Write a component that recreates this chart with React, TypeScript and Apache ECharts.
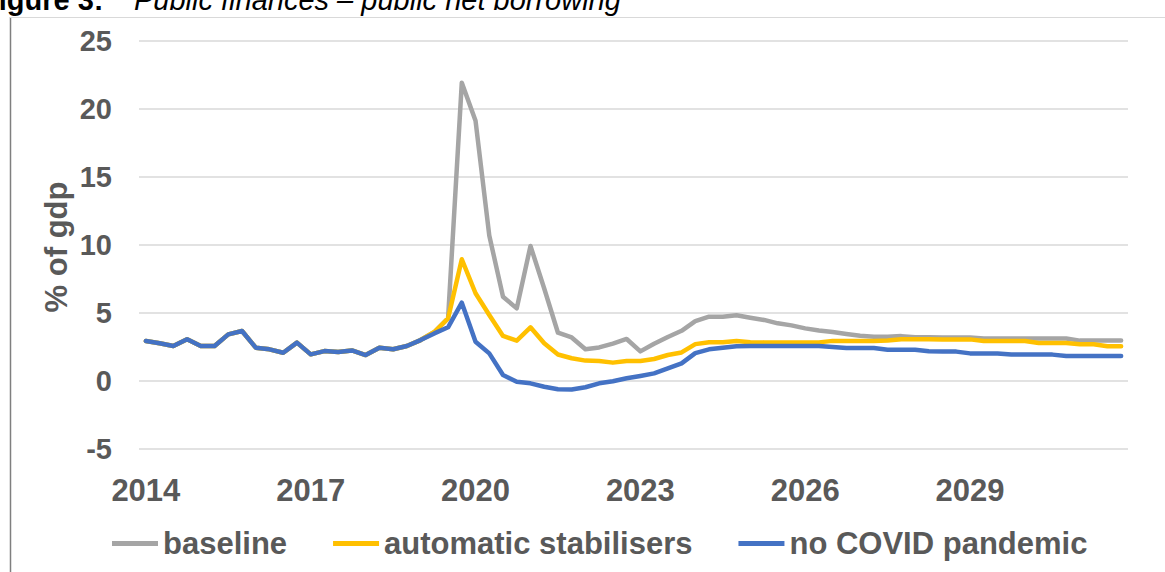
import React, { useEffect, useRef } from "react";
import * as echarts from "echarts";

const years = [2014, 2015, 2016, 2017, 2018, 2019, 2020, 2021, 2022, 2023, 2024, 2025, 2026, 2027, 2028, 2029, 2030, 2031];
const quarters = ["Q1", "Q2", "Q3", "Q4"];
const categories: string[] = [];
years.forEach((y) => quarters.forEach((q) => categories.push(`${y} ${q}`)));

const baseline = [
  2.94, 2.77, 2.57, 3.07, 2.57, 2.57, 3.43, 3.68, 2.45, 2.33, 2.08, 2.82,
  1.96, 2.2, 2.13, 2.25, 1.91, 2.45, 2.33, 2.57, 3.01, 3.6, 4.6, 21.93,
  19.14, 10.7, 6.2, 5.34, 9.93, 6.8, 3.55, 3.2, 2.33, 2.47, 2.75, 3.09,
  2.18, 2.74, 3.24, 3.69, 4.4, 4.73, 4.73, 4.83, 4.65, 4.49, 4.24, 4.09,
  3.87, 3.72, 3.6, 3.46, 3.33, 3.26, 3.26, 3.3, 3.21, 3.21, 3.2, 3.2,
  3.2, 3.12, 3.12, 3.12, 3.12, 3.12, 3.12, 3.12, 2.97, 2.97, 2.97, 2.97,
];

const automaticStabilisers = [
  2.94, 2.77, 2.57, 3.07, 2.57, 2.57, 3.43, 3.68, 2.45, 2.33, 2.08, 2.82,
  1.96, 2.2, 2.13, 2.25, 1.91, 2.45, 2.33, 2.57, 3.01, 3.6, 4.6, 8.95,
  6.45, 4.85, 3.31, 2.97, 3.95, 2.77, 1.95, 1.67, 1.5, 1.47, 1.35, 1.47,
  1.47, 1.62, 1.91, 2.1, 2.71, 2.85, 2.85, 2.94, 2.85, 2.84, 2.84, 2.84,
  2.84, 2.84, 2.95, 2.95, 2.95, 2.95, 2.97, 3.07, 3.07, 3.07, 3.06, 3.06,
  3.06, 2.94, 2.94, 2.94, 2.94, 2.8, 2.8, 2.8, 2.7, 2.7, 2.55, 2.55,
];

const noCovid = [
  2.94, 2.77, 2.57, 3.07, 2.57, 2.57, 3.43, 3.68, 2.45, 2.33, 2.08, 2.82,
  1.96, 2.2, 2.13, 2.25, 1.91, 2.45, 2.33, 2.57, 3.01, 3.5, 3.95, 5.76,
  2.89, 2.03, 0.44, -0.05, -0.17, -0.42, -0.6, -0.62, -0.46, -0.17, -0.02, 0.2,
  0.37, 0.56, 0.93, 1.3, 2.05, 2.33, 2.45, 2.55, 2.57, 2.57, 2.57, 2.57,
  2.57, 2.57, 2.5, 2.42, 2.42, 2.42, 2.3, 2.3, 2.3, 2.18, 2.16, 2.16,
  2.03, 2.03, 2.03, 1.94, 1.94, 1.94, 1.94, 1.84, 1.84, 1.84, 1.84, 1.84,
];

const seriesNames = ["baseline", "automatic stabilisers", "no COVID pandemic"];
const colors = ["#A5A5A5", "#FFC000", "#4472C4"];
const yAxisTitle = "% of gdp";
const titleLead = "Figure 3:";
const titleText = "Public finances – public net borrowing";

const FONT = '"Liberation Sans", Arial, sans-serif';

export default function App() {
  const ref = useRef<HTMLDivElement>(null);
  useEffect(() => {
    if (!ref.current) return;
    const chart = echarts.init(ref.current, undefined, { renderer: "svg" });
    const mk = (name: string, data: number[], color: string, z: number) => ({
      name,
      type: "line",
      data,
      showSymbol: false,
      symbol: "none",
      z,
      lineStyle: { color, width: 4.5, cap: "round", join: "round" },
      itemStyle: { color },
    });
    chart.setOption({
      animation: false,
      backgroundColor: "#ffffff",
      textStyle: { fontFamily: FONT },
      grid: { left: 139, right: 37, top: 41, bottom: 123 },
      xAxis: {
        type: "category",
        data: categories,
        boundaryGap: true,
        axisLine: { show: false },
        axisTick: { show: false },
        splitLine: { show: false },
        axisLabel: {
          interval: (idx: number) => idx % 12 === 0,
          formatter: (v: string) => v.split(" ")[0],
          color: "#595959",
          fontSize: 31,
          fontWeight: "bold",
          fontFamily: FONT,
          margin: 26,
        },
      },
      yAxis: {
        type: "value",
        min: -5,
        max: 25,
        interval: 5,
        axisLine: { show: false },
        axisTick: { show: false },
        splitLine: { lineStyle: { color: "#D9D9D9", width: 1.5 } },
        axisLabel: {
          color: "#595959",
          fontSize: 29,
          fontWeight: "bold",
          fontFamily: FONT,
          margin: 27,
        },
      },
      legend: {
        data: seriesNames,
        left: 112,
        top: 528,
        padding: 0,
        icon: "rect",
        itemWidth: 46,
        itemHeight: 5,
        itemGap: 46,
        textStyle: { color: "#595959", fontSize: 31, fontWeight: "bold", fontFamily: FONT },
      },
      graphic: [
        {
          type: "line",
          shape: { x1: 10.5, y1: 17, x2: 10.5, y2: 572 },
          style: { stroke: "#7F7F7F", lineWidth: 1.5 },
        },
        {
          type: "line",
          shape: { x1: 10, y1: 17.5, x2: 1165, y2: 17.5 },
          style: { stroke: "#D9D9D9", lineWidth: 1 },
        },
        {
          type: "text",
          x: 56,
          y: 247,
          rotation: Math.PI / 2,
          style: {
            text: yAxisTitle,
            font: `bold 31px ${FONT}`,
            fill: "#595959",
            align: "center",
            verticalAlign: "middle",
          },
        },
        {
          type: "text",
          x: -19,
          y: 0,
          style: {
            text: titleLead,
            font: `bold 29px ${FONT}`,
            fill: "#000000",
            verticalAlign: "middle",
            align: "left",
          },
        },
        {
          type: "text",
          x: 134,
          y: 0,
          style: {
            text: titleText,
            font: `italic 29px ${FONT}`,
            fill: "#000000",
            verticalAlign: "middle",
            align: "left",
          },
        },
      ],
      series: [
        mk(seriesNames[0], baseline, colors[0], 2),
        mk(seriesNames[1], automaticStabilisers, colors[1], 3),
        mk(seriesNames[2], noCovid, colors[2], 4),
      ],
    });
    return () => chart.dispose();
  }, []);
  return (
    <div
      ref={ref}
      style={{ position: "fixed", left: 0, top: 0, width: 1165, height: 572 }}
    />
  );
}
